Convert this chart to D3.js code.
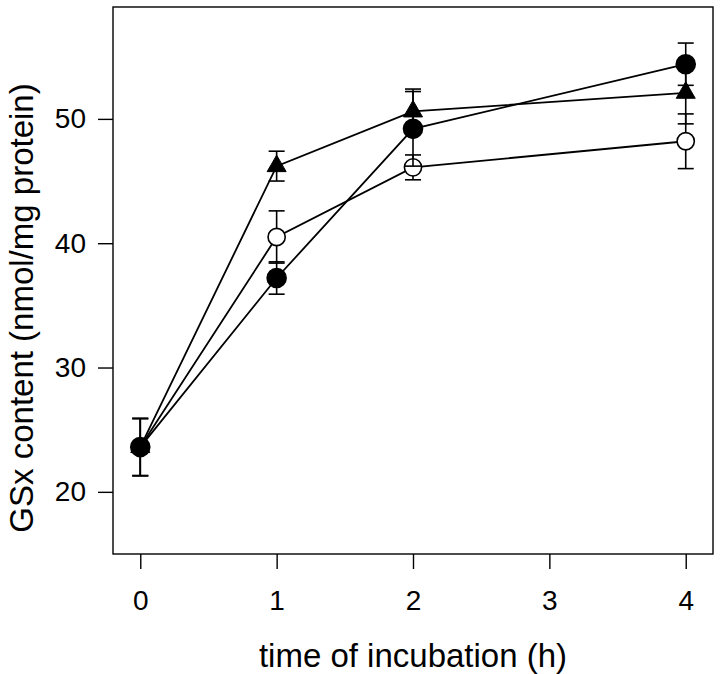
<!DOCTYPE html>
<html><head><meta charset="utf-8">
<script src="https://cdn.jsdelivr.net/npm/d3@7"></script>
<style>body{margin:0;background:#fff}</style>
</head><body>
<script>
const times = [0, 1, 2, 4];
const filledMean = [23.6, 37.2, 49.2, 54.4];
const filledErr  = [2.3, 1.3, 3.0, 1.7];
const openMean   = [23.6, 40.5, 46.1, 48.2];
const openErr    = [2.3, 2.1, 1.0, 2.2];
const triMean    = [23.6, 46.2, 50.6, 52.1];
const triErr     = [2.3, 1.2, 1.8, 2.5];
const xTicks = [0, 1, 2, 3, 4];
const yTicks = [20, 30, 40, 50];

const W = 720, H = 674;
const m = {l: 113, r: 7, t: 7, b: 120};
const svg = d3.select("body").append("svg").attr("width", W).attr("height", H);
const x = d3.scaleLinear().domain([-0.2, 4.2]).range([m.l, W - m.r]);
const y = d3.scaleLinear().domain([15, 59]).range([H - m.b, m.t]);
const font = "Liberation Sans, Arial, Helvetica, sans-serif";

// frame
svg.append("rect").attr("x", m.l).attr("y", m.t)
  .attr("width", W - m.r - m.l).attr("height", H - m.b - m.t)
  .attr("fill", "none").attr("stroke", "#000").attr("stroke-width", 1.4);

const xAxis = svg.append("g").attr("transform", `translate(0,${H - m.b})`)
  .call(d3.axisBottom(x).tickValues(xTicks).tickSize(15).tickPadding(21).tickFormat(d3.format("d")));
const yAxis = svg.append("g").attr("transform", `translate(${m.l},0)`)
  .call(d3.axisLeft(y).tickValues(yTicks).tickSize(15).tickPadding(12).tickFormat(d3.format("d")));
[xAxis, yAxis].forEach(g => {
  g.select(".domain").remove();
  g.selectAll(".tick line").attr("stroke", "#000").attr("stroke-width", 1.4);
  g.selectAll(".tick text").attr("font-family", font).attr("font-size", 28).attr("fill", "#000");
});

svg.append("text").attr("x", x(2)).attr("y", 667)
  .attr("text-anchor", "middle").attr("font-family", font).attr("font-size", 33)
  .text("time of incubation (h)");
svg.append("text").attr("transform", `translate(33,308) rotate(-90)`)
  .attr("text-anchor", "middle").attr("font-family", font).attr("font-size", 33)
  .text("GSx content (nmol/mg protein)");

const series = [
  {mean: openMean, err: openErr, type: "open"},
  {mean: triMean, err: triErr, type: "tri"},
  {mean: filledMean, err: filledErr, type: "filled"}
];
const line = d3.line().x(d => x(d.t)).y(d => y(d.v));
const cap = 8;
series.forEach(s => {
  const pts = times.map((t, i) => ({t, v: s.mean[i], e: s.err[i]}));
  const g = svg.append("g");
  g.append("path").datum(pts).attr("d", line)
    .attr("fill", "none").attr("stroke", "#000").attr("stroke-width", 1.8);
  const eb = g.selectAll(".eb").data(pts).enter().append("g");
  eb.append("line").attr("x1", d => x(d.t)).attr("x2", d => x(d.t))
    .attr("y1", d => y(d.v - d.e)).attr("y2", d => y(d.v + d.e));
  eb.append("line").attr("x1", d => x(d.t) - cap).attr("x2", d => x(d.t) + cap)
    .attr("y1", d => y(d.v + d.e)).attr("y2", d => y(d.v + d.e));
  eb.append("line").attr("x1", d => x(d.t) - cap).attr("x2", d => x(d.t) + cap)
    .attr("y1", d => y(d.v - d.e)).attr("y2", d => y(d.v - d.e));
  eb.selectAll("line").attr("stroke", "#000").attr("stroke-width", 1.6);
  if (s.type === "tri") {
    g.selectAll(".mk").data(pts).enter().append("path")
      .attr("d", d => {
        const cx = x(d.t), cy = y(d.v), hs = 9.5, h = 16.5;
        return `M${cx},${cy - 2*h/3}L${cx + hs},${cy + h/3}L${cx - hs},${cy + h/3}Z`;
      })
      .attr("fill", "#000").attr("stroke", "#000").attr("stroke-width", 1);
  } else {
    g.selectAll(".mk").data(pts).enter().append("circle")
      .attr("cx", d => x(d.t)).attr("cy", d => y(d.v)).attr("r", s.type === "open" ? 8.6 : 9.5)
      .attr("fill", s.type === "open" ? "#fff" : "#000")
      .attr("stroke", "#000").attr("stroke-width", 1.6);
  }
});
</script>
</body></html>
